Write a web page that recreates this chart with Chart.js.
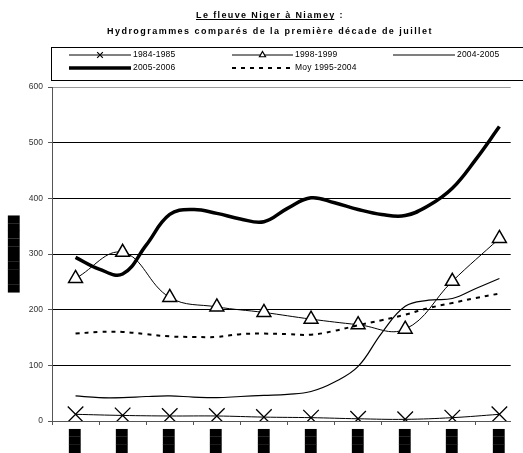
<!DOCTYPE html>
<html>
<head>
<meta charset="utf-8">
<script src="https://cdn.jsdelivr.net/npm/chart.js@4.4.1/dist/chart.umd.min.js"></script>
<style>
  html, body { margin: 0; padding: 0; background: #fff; overflow: hidden; }
  #wrap { width: 523px; height: 453px; }
</style>
</head>
<body>
<div id="wrap"><canvas id="hydroChart" width="523" height="453"></canvas></div>
<script>
// Category labels are illegible in the source (printed as solid blocks)
const xLabels = ['██████', '██████', '██████', '██████', '██████',
                 '██████', '██████', '██████', '██████', '██████'];
const yTitle = '██████████';

// Series with a marker at each category
const serie8485 = [12, 10, 9, 9, 7, 6, 4, 3, 6, 12];
const serie9899 = [256, 303, 222, 205, 195, 183, 173, 165, 251, 328];

// Denser series, one value every half category
const serie0405 = [45, 42, 42, 44, 45, 43, 42, 44, 46, 48, 53, 70, 98, 158, 206, 217, 220, 238, 256];
const serie0506 = [294, 273, 264, 316, 371, 380, 373, 363, 358, 382, 401, 392, 380, 371, 369, 387, 418, 470, 529];
const moy9504  = [157, 160, 160, 156, 152, 151, 151, 156, 157, 156, 155, 162, 172, 181, 191, 203, 212, 221, 229];

const titleLine1 = 'Le fleuve Niger à Niamey';
const titleLine2 = 'Hydrogrammes comparés de la première décade de juillet';

const atCategory = arr => arr.map((v, i) => ({ x: i, y: v }));
const atHalfStep = arr => arr.map((v, i) => ({ x: i / 2, y: v }));

// tick marks sit between categories, labels on them
const xTickValues = [];
for (let i = -1; i < xLabels.length * 2 - 1; i++) xTickValues.push(i / 2);

// legend slot for each dataset (line start, length, row)
const legendSlots = [
    { x: 69, w: 62, row: 0 },
    { x: 232, w: 61, row: 0 },
    { x: 393, w: 62, row: 0 },
    { x: 69, w: 62, row: 1 },
    { x: 232, w: 61, row: 1 }
];

const textLetters = (ctx, text, x, y, spacing) => {
    ctx.letterSpacing = spacing + 'px';
    ctx.fillText(text, x, y);
    ctx.letterSpacing = '0px';
};

const framePlugin = {
    id: 'framePlugin',
    afterDraw(chart) {
        const ctx = chart.ctx;
        ctx.save();
        ctx.fillStyle = '#000';
        ctx.strokeStyle = '#000';
        ctx.textBaseline = 'alphabetic';
        ctx.textAlign = 'left';

        // title, spread out like the original
        ctx.font = 'bold 9px "Liberation Sans"';
        const full1 = titleLine1 + ' :';
        let w = ctx.measureText(full1).width;
        let ls = (148 - w) / full1.length;
        let x0 = 270 - 74;
        textLetters(ctx, full1, x0, 18, ls);
        ctx.letterSpacing = ls + 'px';
        const uw = ctx.measureText(titleLine1).width;
        ctx.letterSpacing = '0px';
        ctx.lineWidth = 1;
        ctx.beginPath();
        ctx.moveTo(x0, 19.5);
        ctx.lineTo(x0 + uw - ls, 19.5);
        ctx.stroke();

        w = ctx.measureText(titleLine2).width;
        ls = (326 - w) / titleLine2.length;
        textLetters(ctx, titleLine2, 270 - 163, 34, ls);

        // legend box
        ctx.lineWidth = 1;
        ctx.strokeRect(51.5, 47.5, 500, 33);
        ctx.font = '8.5px "Liberation Sans"';
        ctx.textBaseline = 'middle';
        chart.data.datasets.forEach((ds, i) => {
            const s = legendSlots[i];
            const y = 55 + s.row * 13;
            ctx.save();
            ctx.lineWidth = ds.borderWidth;
            ctx.setLineDash(ds.borderDash || []);
            ctx.beginPath();
            ctx.moveTo(s.x, y);
            ctx.lineTo(s.x + s.w, y);
            ctx.stroke();
            ctx.restore();
            if (ds.legendMarker) {
                ctx.save();
                ctx.lineWidth = 1.2;
                ctx.fillStyle = '#fff';
                Chart.helpers.drawPoint(ctx, {
                    pointStyle: ds.pointStyle, radius: ds.legendMarker,
                    rotation: 0, borderWidth: 1.2
                }, s.x + s.w / 2, y);
                ctx.restore();
            }
            textLetters(ctx, ds.label, s.x + s.w + 2, y, 0.2);
        });
        ctx.restore();
    }
};

const ctx = document.getElementById('hydroChart').getContext('2d');
const hydroChart = new Chart(ctx, {
    type: 'line',
    data: {
        datasets: [
            {
                label: '1984-1985', data: atCategory(serie8485),
                borderColor: '#000', borderWidth: 1, tension: 0.4,
                pointStyle: 'crossRot', pointRadius: 11, pointBorderWidth: 1.3,
                pointBorderColor: '#000', legendMarker: 4, order: 3
            },
            {
                label: '1998-1999', data: atCategory(serie9899),
                borderColor: '#000', borderWidth: 1, tension: 0.4,
                pointStyle: 'triangle', pointRadius: 8, pointBorderWidth: 1.5,
                pointBorderColor: '#000', pointBackgroundColor: '#fff',
                legendMarker: 3.5, order: 2
            },
            {
                label: '2004-2005', data: atHalfStep(serie0405),
                borderColor: '#000', borderWidth: 1.2, tension: 0.4,
                pointRadius: 0, order: 4
            },
            {
                label: '2005-2006', data: atHalfStep(serie0506),
                borderColor: '#000', borderWidth: 3.5, tension: 0.4,
                pointRadius: 0, order: 5
            },
            {
                label: 'Moy 1995-2004', data: atHalfStep(moy9504),
                borderColor: '#000', borderWidth: 2, borderDash: [4, 5], tension: 0.4,
                pointRadius: 0, order: 1
            }
        ]
    },
    options: {
        responsive: false,
        animation: false,
        devicePixelRatio: 1,
        layout: { padding: { top: 87, left: 0, right: 0, bottom: 0 } },
        plugins: {
            legend: { display: false },
            title: { display: false },
            tooltip: { enabled: false }
        },
        scales: {
            x: {
                type: 'linear',
                min: -0.5,
                max: 9.24,
                afterBuildTicks: axis => { axis.ticks = xTickValues.map(v => ({ value: v })); },
                afterFit: axis => { axis.height = 32; },
                ticks: {
                    autoSkip: false,
                    minRotation: 90,
                    maxRotation: 90,
                    padding: 4,
                    color: '#000',
                    font: { family: 'DejaVu Sans', size: 10 },
                    callback: v => Number.isInteger(v) ? xLabels[v] : ''
                },
                grid: {
                    drawOnChartArea: false,
                    tickLength: 4,
                    color: c => (c.tick && !Number.isInteger(c.tick.value)) ? '#555' : 'rgba(0,0,0,0)'
                },
                border: { color: '#555', width: 1 }
            },
            y: {
                min: 0,
                max: 600,
                afterFit: axis => { axis.width = 52; },
                ticks: {
                    stepSize: 100,
                    padding: 5,
                    color: '#333',
                    font: { family: 'Liberation Sans', size: 8.5 }
                },
                grid: {
                    color: c => c.tick.value === 600 ? '#9a9a9a' : (c.tick.value === 0 ? '#555' : '#000'),
                    tickColor: '#555',
                    tickLength: 4
                },
                border: { color: '#555', width: 1 },
                title: {
                    display: true,
                    text: yTitle,
                    color: '#000',
                    font: { family: 'DejaVu Sans', size: 10 },
                    padding: { top: 8, bottom: 0 }
                }
            }
        }
    },
    plugins: [framePlugin]
});
</script>
</body>
</html>
